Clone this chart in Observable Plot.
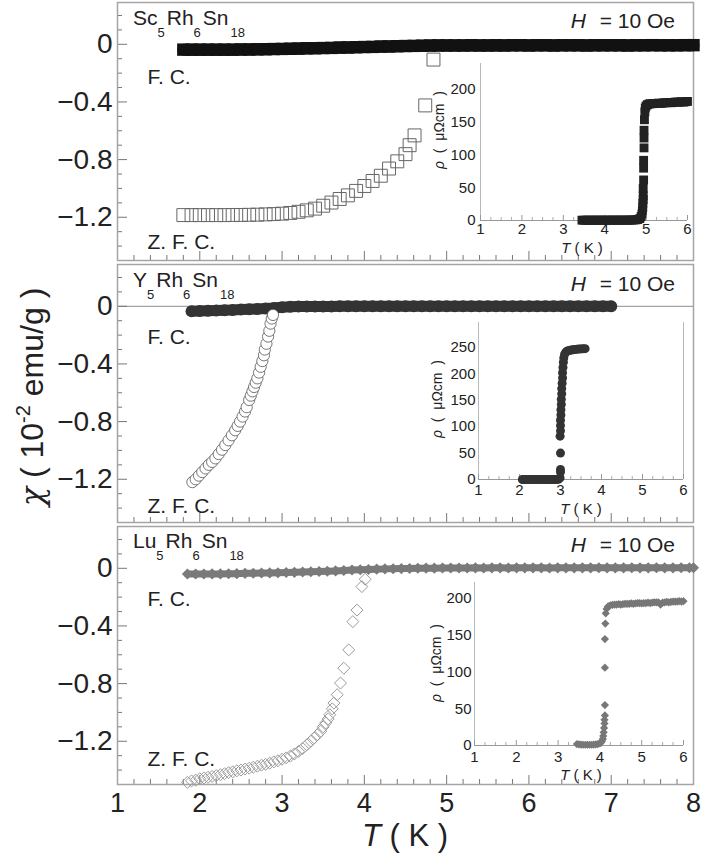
<!DOCTYPE html>
<html><head><meta charset="utf-8">
<script src="https://cdn.jsdelivr.net/npm/d3@7"></script>
<script src="https://cdn.jsdelivr.net/npm/@observablehq/plot@0.6"></script>
<style>
body{margin:0;background:#fff;}
#chart{position:relative;width:703px;height:855px;overflow:hidden;background:#fff;}
#chart svg{position:absolute;}
</style></head><body><div id="chart"></div>
<script>
// ---------- tick values ----------
const tempTicks = [1, 2, 3, 4, 5, 6, 7, 8];
const tMinor = [1.2,1.4,1.6,1.8,2.2,2.4,2.6,2.8,3.2,3.4,3.6,3.8,4.2,4.4,4.6,4.8,5.2,5.4,5.6,5.8,6.2,6.4,6.6,6.8,7.2,7.4,7.6,7.8];
const chiTicks = [0, -0.4, -0.8, -1.2];
const chiMinor = [-1.5,-1.4,-1.3,-1.1,-1.0,-0.9,-0.7,-0.6,-0.5,-0.3,-0.2,-0.1,0.1,0.2];
const insetTTicks = [1, 2, 3, 4, 5, 6];
const insetTMinor = [1.25,1.5,1.75,2.25,2.5,2.75,3.25,3.5,3.75,4.25,4.5,4.75,5.25,5.5,5.75];
const rhoTicksSc = [0, 50, 100, 150, 200];
const rhoTicksY = [0, 50, 100, 150, 200, 250];
const rhoTicksLu = [0, 50, 100, 150, 200];

// ---------- labels ----------
const formulaSc = ["Sc", "5", "Rh", "6", "Sn", "18"];
const formulaY = ["Y", "5", "Rh", "6", "Sn", "18"];
const formulaLu = ["Lu", "5", "Rh", "6", "Sn", "18"];
const fcLabel = "F. C.";
const zfcLabel = "Z. F. C.";

// ---------- main data: [T (K), chi (1e-2 emu/g)] ----------
const scFC = [[1.8,-.037],[1.9,-.037],[2.0,-.037],[2.1,-.037],[2.2,-.037],[2.3,-.037],[2.4,-.037],[2.5,-.036],[2.6,-.036],[2.7,-.035],[2.8,-.034],[2.9,-.033],[3.0,-.032],[3.1,-.031],[3.2,-.030],[3.3,-.028],[3.4,-.027],[3.5,-.026],[3.6,-.025],[3.7,-.023],[3.8,-.022],[3.9,-.020],[4.0,-.019],[4.1,-.018],[4.2,-.016],[4.3,-.015],[4.4,-.013],[4.5,-.012],[4.6,-.011],[4.7,-.010],[4.8,-.009],[4.9,-.008],[5.0,-.008],[5.1,-.008],[5.2,-.008],[5.3,-.007],[5.4,-.008],[5.5,-.008],[5.6,-.007],[5.7,-.008],[5.8,-.007],[5.9,-.007],[6.0,-.008],[6.1,-.007],[6.2,-.007],[6.3,-.008],[6.4,-.007],[6.5,-.007],[6.6,-.007],[6.7,-.008],[6.8,-.007],[6.9,-.007],[7.0,-.007],[7.1,-.007],[7.2,-.008],[7.3,-.007],[7.4,-.007],[7.5,-.006],[7.6,-.007],[7.7,-.007],[7.8,-.007],[7.9,-.006],[8.0,-.006]];
const scZFC = [[1.8,-1.185],[1.9,-1.185],[2.0,-1.185],[2.1,-1.185],[2.2,-1.185],[2.3,-1.185],[2.4,-1.184],[2.5,-1.184],[2.6,-1.183],[2.7,-1.182],[2.8,-1.18],[2.9,-1.178],[3.0,-1.175],[3.1,-1.17],[3.2,-1.162],[3.3,-1.152],[3.4,-1.14],[3.5,-1.12],[3.6,-1.098],[3.7,-1.073],[3.8,-1.048],[3.9,-1.017],[4.0,-0.983],[4.1,-0.948],[4.2,-0.912],[4.3,-0.862],[4.4,-0.812],[4.5,-0.762],[4.55,-0.70],[4.61,-0.632],[4.74,-0.424],[4.84,-0.106]];

const yFC = [[1.9,-.035],[2.0,-.033],[2.1,-.031],[2.2,-.029],[2.3,-.027],[2.4,-.025],[2.5,-.023],[2.6,-.021],[2.7,-.019],[2.8,-.016],[2.9,-.012],[3.0,-.006],[3.1,-.003],[3.2,-.002],[3.3,-.002],[3.4,-.001],[3.5,-.001],[3.6,-.001],[3.7,0],[3.8,0],[3.9,0],[4.0,0],[4.1,.001],[4.2,0],[4.3,0],[4.4,0],[4.5,.001],[4.6,0],[4.7,0],[4.8,0],[4.9,.001],[5.0,0],[5.1,0],[5.2,0],[5.3,.001],[5.4,0],[5.5,0],[5.6,0],[5.7,.001],[5.8,0],[5.9,0],[6.0,0],[6.1,.001],[6.2,0],[6.3,0],[6.4,0],[6.5,.001],[6.6,0],[6.7,0],[6.8,0],[6.9,0],[7.0,0]];
const yZFC = [[1.91,-1.22],[1.95,-1.20],[1.99,-1.175],[2.03,-1.15],[2.07,-1.125],[2.11,-1.10],[2.15,-1.08],[2.19,-1.055],[2.23,-1.025],[2.27,-0.995],[2.31,-0.963],[2.35,-0.93],[2.39,-0.895],[2.43,-0.86],[2.46,-0.83],[2.49,-0.80],[2.52,-0.765],[2.55,-0.73],[2.57,-0.70],[2.60,-0.65],[2.62,-0.62],[2.64,-0.59],[2.66,-0.56],[2.68,-0.53],[2.70,-0.50],[2.72,-0.46],[2.74,-0.42],[2.76,-0.38],[2.78,-0.34],[2.79,-0.30],[2.81,-0.26],[2.83,-0.21],[2.845,-0.17],[2.86,-0.12],[2.875,-0.085],[2.89,-0.06]];

const luFC = [[1.85,-.040],[1.95,-.040],[2.05,-.040],[2.15,-.039],[2.25,-.039],[2.35,-.038],[2.45,-.037],[2.55,-.035],[2.65,-.034],[2.75,-.033],[2.85,-.032],[2.95,-.031],[3.05,-.029],[3.15,-.028],[3.25,-.026],[3.35,-.024],[3.45,-.022],[3.55,-.020],[3.65,-.018],[3.75,-.015],[3.85,-.012],[3.95,-.010],[4.05,-.008],[4.15,-.006],[4.25,-.004],[4.35,-.003],[4.45,-.002],[4.55,-.001],[4.65,0],[4.75,.001],[4.85,.001],[4.95,.002],[5.05,.002],[5.15,.002],[5.25,.002],[5.35,.003],[5.45,.002],[5.55,.003],[5.65,.003],[5.75,.002],[5.85,.003],[5.95,.003],[6.05,.003],[6.15,.003],[6.25,.002],[6.35,.003],[6.45,.003],[6.55,.003],[6.65,.003],[6.75,.003],[6.85,.004],[6.95,.003],[7.05,.003],[7.15,.003],[7.25,.004],[7.35,.003],[7.45,.003],[7.55,.004],[7.65,.003],[7.75,.003],[7.85,.004],[7.95,.004],[8.0,.004]];
const luZFC = [[1.85,-1.485],[1.90,-1.475],[1.95,-1.47],[2.00,-1.46],[2.05,-1.455],[2.10,-1.45],[2.15,-1.444],[2.20,-1.438],[2.25,-1.432],[2.30,-1.425],[2.35,-1.418],[2.40,-1.412],[2.45,-1.405],[2.50,-1.40],[2.55,-1.393],[2.60,-1.387],[2.65,-1.38],[2.70,-1.373],[2.75,-1.366],[2.80,-1.36],[2.85,-1.352],[2.90,-1.343],[2.95,-1.335],[3.00,-1.325],[3.05,-1.315],[3.10,-1.303],[3.15,-1.288],[3.20,-1.27],[3.25,-1.25],[3.30,-1.225],[3.35,-1.20],[3.39,-1.177],[3.43,-1.155],[3.47,-1.13],[3.50,-1.10],[3.53,-1.073],[3.56,-1.045],[3.58,-1.016],[3.61,-0.975],[3.63,-0.935],[3.67,-0.877],[3.71,-0.796],[3.75,-0.693],[3.81,-0.566],[3.86,-0.37],[3.91,-0.29],[3.97,-0.127],[4.01,-0.076]];

// ---------- inset data: [T (K), rho (µΩcm)] ----------
const scRho = [[3.45,0.5],[3.5,0.4],[3.55,0.5],[3.6,0.4],[3.65,0.5],[3.7,0.5],[3.75,0.4],[3.8,0.5],[3.85,0.5],[3.9,0.5],[3.95,0.4],[4.0,0.5],[4.05,0.5],[4.1,0.5],[4.15,0.5],[4.2,0.5],[4.25,0.6],[4.3,0.5],[4.35,0.5],[4.4,0.6],[4.45,0.5],[4.5,0.6],[4.55,0.6],[4.6,0.6],[4.65,0.7],[4.7,0.8],[4.75,1.0],[4.8,1.5],[4.85,3],[4.88,6],[4.9,10],[4.91,15],[4.92,20],[4.92,26],[4.93,32],[4.93,38],[4.93,49],[4.94,62],[4.94,80],[4.94,92],[4.95,111],[4.95,126],[4.95,138],[4.96,154],[4.97,166],[4.98,172],[5.0,175],[5.03,177],[5.07,178],[5.1,178.5],[5.15,178.5],[5.2,179],[5.25,179],[5.3,179.5],[5.35,179],[5.4,179.5],[5.45,180],[5.5,180],[5.55,180.5],[5.6,180],[5.65,180.5],[5.7,181],[5.75,181],[5.8,181],[5.85,181.5],[5.9,181],[5.95,181.5],[6.0,182]];
const yRho = [[2.07,0],[2.1,0],[2.15,0],[2.2,0],[2.25,0],[2.3,0],[2.35,0],[2.4,0],[2.45,0],[2.5,0],[2.55,0],[2.6,0],[2.65,0],[2.7,0],[2.75,0],[2.8,0],[2.85,0],[2.9,0],[2.95,0.5],[2.99,3],[3.0,14],[3.0,19],[3.0,50],[2.99,82],[3.0,92],[3.0,102],[3.0,112],[3.01,122],[3.01,132],[3.02,142],[3.02,152],[3.03,162],[3.03,172],[3.04,182],[3.05,192],[3.05,202],[3.06,212],[3.07,222],[3.08,230],[3.1,237],[3.13,241],[3.17,243],[3.21,244],[3.26,245],[3.3,245.5],[3.35,246],[3.4,246.5],[3.45,247],[3.5,247],[3.55,247.5],[3.6,247.5]];
const luRho = [[3.45,2],[3.5,1.5],[3.55,1.2],[3.6,1],[3.65,1],[3.7,1],[3.75,1],[3.8,1],[3.85,1.2],[3.9,1.5],[3.95,2],[4.0,3],[4.03,4],[4.05,6],[4.07,9],[4.08,13],[4.09,18],[4.1,24],[4.11,30],[4.11,35],[4.12,41],[4.12,55],[4.12,106],[4.12,145],[4.13,166],[4.14,180],[4.16,186],[4.19,189],[4.22,190],[4.25,191],[4.3,191.5],[4.35,192],[4.4,192],[4.45,192.5],[4.5,192],[4.55,192.5],[4.6,193],[4.65,193],[4.7,193],[4.75,193.5],[4.8,193],[4.85,193.5],[4.9,194],[4.95,194],[5.0,193.5],[5.05,194],[5.1,194],[5.15,194.5],[5.2,194],[5.25,194.5],[5.3,195],[5.35,195],[5.4,195],[5.45,192],[5.5,194.5],[5.55,195],[5.6,195.5],[5.65,195],[5.7,195.5],[5.75,196],[5.8,196],[5.85,196],[5.9,196.5],[5.95,196],[6.0,196.5]];

// ---------- helpers ----------
const FONT = '"Liberation Sans", Arial, Helvetica, sans-serif';
const INK = "#222";
const T = d => d[0], V = d => d[1];
const fmtChi = d => d === 0 ? "0" : "\u2212" + Math.abs(d).toFixed(1);
const chart = document.getElementById("chart");

function place(svg, left, top) {
  svg.style.left = left + "px";
  svg.style.top = top + "px";
  chart.appendChild(svg);
}

function richText(svg, {x, y, anchor = "start", size, rotate = 0, parts}) {
  const t = d3.select(svg).append("text")
    .attr("transform", `translate(${x},${y})${rotate ? ` rotate(${rotate})` : ""}`)
    .attr("text-anchor", anchor)
    .attr("font-family", FONT)
    .attr("font-size", size)
    .attr("fill", INK)
    .style("white-space", "pre");
  for (const p of parts) {
    const s = t.append("tspan").text(p.t);
    if (p.italic) s.attr("font-style", "italic");
    if (p.font) s.attr("font-family", p.font);
    if (p.size) s.attr("font-size", p.size);
    if (p.dx != null) s.attr("dx", p.dx);
    if (p.dy != null) s.attr("dy", p.dy);
  }
}

function formula(svg, x, y, f, drop) {
  richText(svg, {x, y, size: 21, parts: [
    {t: f[0]}, {t: f[1], size: 13, dy: drop},
    {t: f[2], dy: -drop, dx: 2}, {t: f[3], size: 13, dy: drop},
    {t: f[4], dy: -drop, dx: 2}, {t: f[5], size: 13, dy: drop, dx: 2}
  ]});
}

function panel(o) {
  const bottom = !!o.bottom;
  const svg = Plot.plot({
    width: 703, height: bottom ? 331 : 261,
    marginLeft: 117, marginRight: 10, marginTop: 2, marginBottom: bottom ? 71 : 1,
    style: {fontFamily: FONT, color: INK, background: "transparent", overflow: "visible"},
    x: {domain: [1, 8], axis: null},
    y: {domain: [-1.5, 0.29], axis: null},
    marks: [
      o.zeroLine ? Plot.ruleY([0], {stroke: "#8c8c8c", strokeWidth: 1}) : null,
      Plot.axisY({ticks: chiMinor, tickSize: -5, text: null, label: null, stroke: "#777"}),
      Plot.axisY({ticks: chiTicks, tickSize: -10, text: null, label: null, stroke: "#777"}),
      Plot.axisY({ticks: chiTicks, tickSize: 0, tickPadding: 5, fontSize: 28, tickFormat: fmtChi, label: null}),
      Plot.axisX({ticks: tMinor, tickSize: -5, text: null, label: null, stroke: "#777"}),
      Plot.axisX({ticks: tempTicks, tickSize: -9, text: null, label: null, stroke: "#777"}),
      bottom ? Plot.axisX({ticks: tempTicks, tickSize: 0, tickPadding: 8, fontSize: 27, tickFormat: d => String(d), label: null}) : null,
      Plot.frame({stroke: "#a5a5a5", strokeWidth: 1.5}),
      Plot.text([fcLabel], {text: d => d, frameAnchor: "top-left", dx: 30, dy: o.fcDy, textAnchor: "start", lineAnchor: "bottom", fontSize: 21, fill: INK}),
      Plot.text([zfcLabel], {text: d => d, frameAnchor: "top-left", dx: 30, dy: o.zfcDy, textAnchor: "start", lineAnchor: "bottom", fontSize: 21, fill: INK}),
      Plot.line(o.fc, {x: T, y: V, ...o.bandStyle}),
      Plot.dot(o.fc, {x: T, y: V, ...o.fcStyle}),
      Plot.dot(o.zfc, {x: T, y: V, ...o.zfcStyle})
    ]
  });
  formula(svg, 133, o.formulaY, o.formula, 12);
  richText(svg, {x: 675, y: o.hY, anchor: "end", size: 21, parts: [{t: "H", italic: true}, {t: " = 10 Oe", dx: 8}]});
  return svg;
}

function inset(o) {
  const svg = Plot.plot({
    width: o.w, height: o.h,
    marginLeft: o.mL, marginRight: o.mR, marginTop: o.mT, marginBottom: o.mB,
    style: {fontFamily: FONT, color: INK, background: "transparent", overflow: "visible"},
    x: {domain: [1, 6], axis: null},
    y: {domain: [0, o.yMax], axis: null},
    marks: [
      Plot.ruleX([1], {stroke: "#b8b8b8"}),
      o.rightLine ? Plot.ruleX([6], {stroke: "#b8b8b8"}) : null,
      Plot.ruleY([0], {stroke: "#999"}),
      Plot.axisX({ticks: insetTMinor, tickSize: -3, text: null, label: null, stroke: "#aaa"}),
      Plot.axisX({ticks: insetTTicks, tickSize: -5, text: null, label: null, stroke: "#999"}),
      Plot.axisX({ticks: insetTTicks, tickSize: 0, tickPadding: o.xPad, fontSize: 15, tickFormat: d => String(d), label: null}),
      Plot.axisY({ticks: o.yTicks, tickSize: 0, tickPadding: o.yPad, fontSize: 15, tickFormat: d => String(d), label: null}),
      Plot.dot(o.data, {x: T, y: V, ...o.dotStyle})
    ]
  });
  richText(svg, {x: o.rhoX, y: o.rhoY, anchor: "middle", size: 14, rotate: -90,
    parts: [{t: "\u03c1", italic: true}, {t: "  (  \u03bc\u03a9cm  )"}]});
  richText(svg, {x: o.tX, y: o.tY, anchor: "middle", size: 15,
    parts: [{t: "T", italic: true}, {t: " ( K )"}]});
  return svg;
}

// ---------- panels ----------
const p1 = panel({fc: scFC, zfc: scZFC, formula: formulaSc, formulaY: 25, hY: 28, fcDy: 81, zfcDy: 246,
  bandStyle: {stroke: "#111", strokeWidth: 12},
  fcStyle: {symbol: "square", r: 7, fill: "#111", stroke: "none"},
  zfcStyle: {symbol: "square", r: 7.3, fill: "none", stroke: "#666", strokeWidth: 1}});
place(p1, 0, 0);

const p2 = panel({fc: yFC, zfc: yZFC, formula: formulaY, formulaY: 25, hY: 29, fcDy: 79, zfcDy: 248, zeroLine: true,
  bandStyle: {stroke: "#333", strokeWidth: 11, strokeLinecap: "round"},
  fcStyle: {symbol: "circle", r: 6, fill: "#333", stroke: "none"},
  zfcStyle: {symbol: "circle", r: 5.6, fill: "white", stroke: "#555", strokeWidth: 0.8}});
richText(p2, {x: 43, y: 135, anchor: "middle", size: 32, rotate: -90,
  parts: [{t: "\u03c7", font: '"DejaVu Serif", serif', italic: true}, {t: " ( 10"}, {t: "-2", size: 20, dy: -13}, {t: " emu/g )", dy: 13}]});
place(p2, 0, 262);

const p3 = panel({fc: luFC, zfc: luZFC, formula: formulaLu, formulaY: 24, hY: 28, fcDy: 79, zfcDy: 239, bottom: true,
  bandStyle: {stroke: "#7a7a7a", strokeWidth: 7},
  fcStyle: {symbol: "diamond2", r: 5, fill: "#7a7a7a", stroke: "none"},
  zfcStyle: {symbol: "diamond2", r: 5.4, fill: "none", stroke: "#9a9a9a", strokeWidth: 1}});
richText(p3, {x: 405, y: 322, anchor: "middle", size: 31, parts: [{t: "T", italic: true}, {t: " ( K )"}]});
place(p3, 0, 524);

// ---------- insets ----------
place(inset({data: scRho, yMax: 240, yTicks: rhoTicksSc, w: 275, h: 205, mL: 60, mR: 8, mT: 8, mB: 40,
  xPad: 3, yPad: 5, rhoX: 24, rhoY: 75, tX: 162, tY: 198,
  dotStyle: {symbol: "square", r: 5, fill: "#222", stroke: "none"}}), 420, 55);

place(inset({data: yRho, yMax: 297, yTicks: rhoTicksY, w: 275, h: 205, mL: 58, mR: 12, mT: 7, mB: 41, rightLine: true,
  xPad: 5, yPad: 3, rhoX: 22, rhoY: 84, tX: 161, tY: 199,
  dotStyle: {symbol: "circle", r: 4.5, fill: "#333", stroke: "none"}}), 420, 315);

place(inset({data: luRho, yMax: 222, yTicks: rhoTicksLu, w: 280, h: 210, mL: 59, mR: 12, mT: 7, mB: 40,
  xPad: 6, yPad: 3, rhoX: 26, rhoY: 88, tX: 166, tY: 205,
  dotStyle: {symbol: "diamond2", r: 3.7, fill: "#777", stroke: "none"}}), 415, 575);
</script></body></html>
